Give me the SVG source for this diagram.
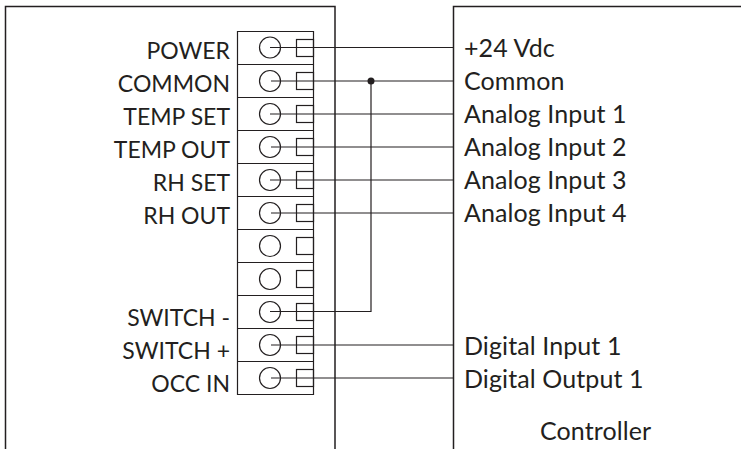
<svg xmlns="http://www.w3.org/2000/svg" width="741" height="449" viewBox="0 0 741 449">
<style>
.l{fill:none;stroke:#231f20;stroke-width:1.2}
.b{fill:none;stroke:#231f20;stroke-width:1.5}
.w{fill:none;stroke:#231f20;stroke-width:1.2}
text{font-family:"Lato","Open Sans",sans-serif;font-size:25px;letter-spacing:.1px;fill:#231f20}
.r{text-anchor:end;font-size:23px;letter-spacing:0}
</style>
<rect width="741" height="449" fill="#fff"/>
<g id="device">
<path class="b" d="M5.500 449V6.500H335V449"/>
</g>
<g id="controller">
<path class="b" d="M453.500 449V6.500H741"/>
<text x="464" y="57">+24 Vdc</text>
<text x="464" y="90">Common</text>
<text x="464" y="123">Analog Input 1</text>
<text x="464" y="156">Analog Input 2</text>
<text x="464" y="189">Analog Input 3</text>
<text x="464" y="222">Analog Input 4</text>
<text x="464" y="355">Digital Input 1</text>
<text x="464" y="388">Digital Output 1</text>
<text x="540" y="440">Controller</text>
</g>
<g id="terminal-block">
<path class="l" d="M237.500 31.500H313.500V394.500H237.500Z"/>
<path class="l" d="M237.500 64.500H313.500M237.500 97.500H313.500M237.500 130.500H313.500M237.500 163.500H313.500M237.500 196.500H313.500M237.500 229.500H313.500M237.500 262.500H313.500M237.500 295.500H313.500M237.500 328.500H313.500M237.500 361.500H313.500"/>
</g>
<g id="t1"><circle class="l" cx="270" cy="47.500" r="10.500"/><rect class="l" x="296.500" y="39.500" width="17" height="17"/><text class="r" x="230" y="59">POWER</text></g>
<g id="t2"><circle class="l" cx="270" cy="81" r="10.500"/><rect class="l" x="296.500" y="72.500" width="17" height="17"/><text class="r" x="230" y="92">COMMON</text></g>
<g id="t3"><circle class="l" cx="270" cy="114" r="10.500"/><rect class="l" x="296.500" y="105.500" width="17" height="17"/><text class="r" x="230" y="125">TEMP SET</text></g>
<g id="t4"><circle class="l" cx="270" cy="147" r="10.500"/><rect class="l" x="296.500" y="138.500" width="17" height="17"/><text class="r" x="230" y="158">TEMP OUT</text></g>
<g id="t5"><circle class="l" cx="270" cy="180" r="10.500"/><rect class="l" x="296.500" y="171.500" width="17" height="17"/><text class="r" x="230" y="191">RH SET</text></g>
<g id="t6"><circle class="l" cx="270" cy="213" r="10.500"/><rect class="l" x="296.500" y="204.500" width="17" height="17"/><text class="r" x="230" y="224">RH OUT</text></g>
<g id="t7"><circle class="l" cx="270" cy="246" r="10.500"/><rect class="l" x="296.500" y="237.500" width="17" height="17"/></g>
<g id="t8"><circle class="l" cx="270" cy="279" r="10.500"/><rect class="l" x="296.500" y="270.500" width="17" height="17"/></g>
<g id="t9"><circle class="l" cx="270" cy="312" r="10.500"/><rect class="l" x="296.500" y="303.500" width="17" height="17"/><text class="r" x="230" y="326">SWITCH -</text></g>
<g id="t10"><circle class="l" cx="270" cy="345" r="10.500"/><rect class="l" x="296.500" y="336.500" width="17" height="17"/><text class="r" x="230" y="359">SWITCH +</text></g>
<g id="t11"><circle class="l" cx="270" cy="378" r="10.500"/><rect class="l" x="296.500" y="369.500" width="17" height="17"/><text class="r" x="230" y="392">OCC IN</text></g>
<g id="connectors">
<path class="w" d="M270 47.500H453.500M271 81H453.500M270 114H453.500M271 147H453.500M270 180H453.500M271 213H453.500M270 311.500H371V81M271 345H453.500M271 378H453.500"/>
<circle cx="371" cy="81" r="3.500" fill="#231f20"/>
</g>
</svg>
